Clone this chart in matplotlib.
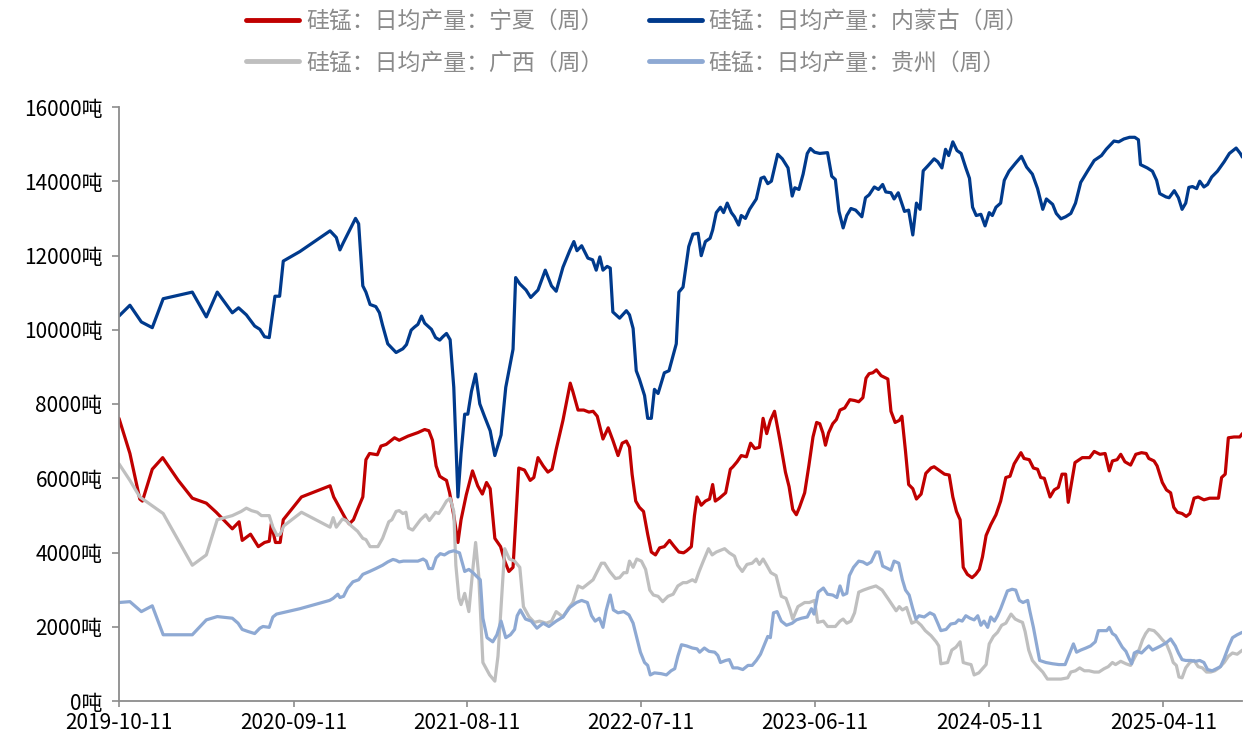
import matplotlib
matplotlib.use("Agg")
import matplotlib.pyplot as plt
import pandas as pd

START = "2019-10-11"

# (days since START, daily output in tonnes)
ningxia = [
    (0, 7614), (21, 6667), (40, 5440), (45, 5385), (64, 6243), (84, 6555), (114, 5942), (141, 5463),
    (168, 5329), (187, 5084), (218, 4638), (231, 4827), (237, 4326), (253, 4493), (268, 4158), (280, 4270),
    (289, 4303), (293, 4772), (301, 4270), (310, 4270), (316, 4883), (351, 5496), (406, 5797), (413, 5496),
    (424, 5217), (437, 4883), (443, 4772), (451, 4883), (459, 5162), (469, 5496), (475, 6500), (482, 6667),
    (497, 6633), (504, 6867), (514, 6912), (530, 7090), (539, 7023), (556, 7135), (575, 7230), (588, 7313),
    (596, 7280), (603, 7023), (610, 6332), (617, 6054), (623, 5998), (630, 5942), (636, 5608), (644, 4994),
    (652, 4270), (658, 4883), (668, 5552), (680, 6198), (690, 5797), (699, 5574), (707, 5886), (714, 5719),
    (723, 4381), (734, 4158), (742, 3768), (750, 3489), (758, 3601), (769, 6276), (780, 6221), (791, 5942),
    (798, 6020), (806, 6555), (816, 6332), (825, 6165), (833, 6243), (841, 6778), (854, 7558), (868, 8562),
    (873, 8339), (883, 7837), (894, 7837), (904, 7782), (912, 7804), (920, 7670), (931, 7057), (941, 7358),
    (950, 7023), (960, 6611), (968, 6945), (976, 7001), (982, 6834), (987, 6110), (994, 5385), (1001, 5217),
    (1009, 5106), (1017, 4493), (1024, 4013), (1032, 3935), (1040, 4125), (1049, 4158), (1059, 4326),
    (1067, 4181), (1077, 4013), (1086, 3991), (1092, 4047), (1101, 4158), (1107, 4994), (1112, 5496),
    (1120, 5273), (1128, 5385), (1136, 5440), (1142, 5831), (1147, 5385), (1155, 5463), (1167, 5608),
    (1176, 6243), (1181, 6310), (1189, 6444), (1197, 6611), (1207, 6578), (1215, 6945), (1223, 6800),
    (1232, 6834), (1239, 7614), (1246, 7202), (1253, 7558), (1261, 7804), (1271, 7057), (1282, 6165),
    (1289, 5775), (1296, 5162), (1303, 5017), (1309, 5217), (1319, 5608), (1327, 6332), (1335, 7112),
    (1342, 7503), (1348, 7469), (1354, 7224), (1359, 6890), (1365, 7224), (1373, 7469), (1380, 7581),
    (1387, 7837), (1396, 7893), (1406, 8116), (1415, 8094), (1423, 8060), (1431, 8171), (1437, 8696),
    (1443, 8818), (1450, 8841), (1457, 8919), (1466, 8763), (1479, 8673), (1485, 7804), (1493, 7503),
    (1501, 7558), (1506, 7670), (1513, 6722), (1519, 5831), (1527, 5719), (1534, 5440), (1543, 5574),
    (1552, 6131), (1562, 6276), (1568, 6310), (1579, 6198), (1588, 6110), (1597, 6087), (1604, 5496),
    (1611, 5106), (1618, 4883), (1624, 3601), (1632, 3411), (1641, 3322), (1648, 3411), (1655, 3545),
    (1661, 3880), (1668, 4459), (1677, 4749), (1687, 5017), (1696, 5385), (1706, 6020), (1714, 6054),
    (1722, 6388), (1735, 6689), (1741, 6533), (1751, 6500), (1759, 6276), (1767, 6243), (1773, 6020),
    (1780, 5998), (1791, 5496), (1799, 5686), (1807, 5753), (1814, 6110), (1821, 6110), (1826, 5351),
    (1839, 6422), (1853, 6555), (1867, 6555), (1876, 6722), (1887, 6645), (1897, 6667), (1905, 6198),
    (1911, 6466), (1920, 6500), (1927, 6645), (1935, 6444), (1946, 6355), (1956, 6645), (1967, 6689),
    (1976, 6667), (1981, 6533), (1991, 6466), (1997, 6332), (2007, 5886), (2015, 5686), (2023, 5608),
    (2029, 5217), (2036, 5084), (2045, 5050), (2053, 4972), (2060, 5050), (2068, 5463), (2076, 5496),
    (2087, 5418), (2098, 5463), (2115, 5463), (2121, 6020), (2128, 6110), (2134, 7090), (2145, 7112),
    (2156, 7112), (2161, 7202),
]

neimenggu = [
    (0, 10370), (21, 10660), (43, 10210), (64, 10056), (85, 10836), (141, 11014), (168, 10346), (189, 11014),
    (218, 10457), (230, 10591), (245, 10401), (261, 10100), (271, 10011), (280, 9811), (289, 9788),
    (300, 10903), (309, 10903), (316, 11850), (348, 12107), (406, 12664), (418, 12486), (425, 12151),
    (431, 12330), (455, 13000), (461, 12854), (469, 11182), (475, 11014), (483, 10680), (494, 10624),
    (501, 10457), (507, 10123), (517, 9621), (533, 9387), (546, 9487), (553, 9600), (562, 9989),
    (568, 10067), (575, 10145), (582, 10368), (588, 10178), (601, 10011), (609, 9788), (617, 9721),
    (623, 9811), (630, 9900), (637, 9732), (644, 8450), (652, 5496), (658, 6667), (665, 7726), (671, 7726),
    (678, 8339), (686, 8807), (694, 8004), (703, 7670), (710, 7425), (714, 7280), (723, 6611), (729, 6890),
    (735, 7168), (744, 8450), (758, 9476), (763, 11405), (771, 11237), (783, 11070), (792, 10870),
    (806, 11070), (820, 11605), (832, 11182), (841, 11037), (854, 11683), (867, 12129), (875, 12375),
    (881, 12129), (890, 12263), (902, 11929), (911, 11884), (918, 11605), (925, 11962), (931, 11605),
    (939, 11706), (945, 11661), (950, 10479), (963, 10312), (976, 10513), (982, 10401), (989, 10033),
    (995, 8896), (1001, 8673), (1011, 8227), (1017, 7614), (1024, 7614), (1030, 8394), (1037, 8283),
    (1049, 8840), (1058, 8896), (1072, 9621), (1077, 11014), (1085, 11148), (1096, 12241), (1104, 12575),
    (1114, 12597), (1120, 11995), (1128, 12375), (1137, 12464), (1142, 12687), (1149, 13155), (1157, 13300),
    (1163, 13155), (1170, 13411), (1178, 13155), (1184, 13043), (1192, 12821), (1197, 13077), (1205, 12999),
    (1213, 13244), (1226, 13523), (1235, 14080), (1241, 14114), (1248, 13935), (1255, 14002), (1267, 14727),
    (1276, 14604), (1287, 14359), (1295, 13601), (1300, 13824), (1308, 13779), (1316, 14192), (1324, 14749),
    (1330, 14883), (1338, 14783), (1348, 14749), (1363, 14771), (1371, 14136), (1378, 14047), (1385, 13188),
    (1393, 12743), (1400, 13077), (1408, 13266), (1417, 13222), (1429, 13043), (1436, 13556), (1443, 13634),
    (1453, 13846), (1461, 13779), (1469, 13913), (1475, 13712), (1485, 13690), (1491, 13523), (1499, 13690),
    (1511, 13188), (1519, 13222), (1527, 12553), (1534, 13411), (1541, 13244), (1547, 14281), (1556, 14415),
    (1568, 14604), (1575, 14526), (1583, 14359), (1590, 14860), (1596, 14693), (1604, 15061), (1612, 14827),
    (1620, 14749), (1629, 14359), (1636, 14080), (1642, 13300), (1649, 13077), (1658, 13110), (1666, 12798),
    (1674, 13155), (1680, 13077), (1687, 13300), (1696, 13411), (1703, 14025), (1712, 14270), (1725, 14493),
    (1736, 14671), (1746, 14381), (1757, 14192), (1767, 13802), (1777, 13244), (1784, 13523), (1796, 13378),
    (1803, 13133), (1812, 12988), (1821, 13043), (1831, 13133), (1840, 13411), (1850, 13969), (1863, 14270),
    (1876, 14560), (1890, 14693), (1899, 14860), (1914, 15083), (1923, 15061), (1933, 15139), (1944, 15184),
    (1954, 15184), (1961, 15117), (1965, 14448), (1978, 14359), (1988, 14270), (1996, 14025), (2002, 13668),
    (2014, 13578), (2020, 13556), (2030, 13746), (2038, 13556), (2045, 13244), (2052, 13411), (2058, 13835),
    (2065, 13857), (2073, 13802), (2079, 14002), (2087, 13846), (2094, 13913), (2102, 14114), (2113, 14270),
    (2126, 14526), (2136, 14749), (2149, 14894), (2157, 14749), (2161, 14650),
]

guangxi = [
    (0, 6388), (21, 5942), (40, 5496), (85, 5050), (141, 3657), (168, 3935), (189, 4883), (218, 4994),
    (235, 5106), (245, 5195), (255, 5128), (266, 5084), (274, 4994), (289, 4994), (296, 4682), (304, 4459),
    (310, 4493), (317, 4716), (351, 5084), (406, 4682), (412, 4939), (418, 4682), (430, 4905), (437, 4861),
    (447, 4716), (459, 4571), (469, 4381), (475, 4348), (483, 4158), (498, 4158), (507, 4381), (519, 4827),
    (525, 4883), (533, 5106), (539, 5128), (546, 5050), (552, 5084), (557, 4660), (565, 4604), (580, 4883),
    (590, 5017), (597, 4861), (609, 5084), (615, 5050), (622, 5195), (630, 5385), (637, 5463), (644, 5106),
    (648, 3657), (654, 2765), (658, 2597), (665, 2899), (673, 2408), (681, 3601), (686, 4270), (692, 3378),
    (700, 1037), (713, 702), (723, 535), (729, 1204), (735, 2542), (742, 4103), (751, 3824), (761, 3768),
    (771, 3601), (778, 2542), (789, 2263), (799, 2118), (809, 2152), (822, 2096), (832, 2152), (841, 2408),
    (854, 2263), (864, 2486), (873, 2653), (883, 3099), (892, 3043), (902, 3155), (912, 3266), (920, 3489),
    (928, 3712), (934, 3712), (944, 3489), (955, 3300), (963, 3322), (971, 3456), (977, 3456), (982, 3768),
    (989, 3601), (996, 3824), (1005, 3768), (1013, 3545), (1021, 2988), (1028, 2854), (1037, 2820),
    (1046, 2676), (1056, 2820), (1066, 2876), (1075, 3099), (1085, 3188), (1092, 3188), (1103, 3266),
    (1109, 3211), (1116, 3489), (1124, 3768), (1134, 4103), (1141, 3935), (1149, 4013), (1165, 4103),
    (1174, 3991), (1184, 3902), (1190, 3657), (1199, 3489), (1208, 3679), (1218, 3712), (1226, 3824),
    (1232, 3679), (1239, 3824), (1246, 3657), (1254, 3456), (1264, 3378), (1274, 2820), (1283, 2765),
    (1291, 2453), (1296, 2207), (1306, 2542), (1319, 2653), (1328, 2653), (1338, 2709), (1344, 2118),
    (1355, 2152), (1363, 2007), (1378, 2007), (1387, 2152), (1393, 2207), (1400, 2096), (1408, 2152),
    (1415, 2375), (1423, 2932), (1432, 2988), (1443, 3043), (1456, 3099), (1468, 2988), (1479, 2765),
    (1487, 2597), (1495, 2430), (1501, 2542), (1507, 2453), (1515, 2519), (1525, 2096), (1534, 2152),
    (1543, 2040), (1551, 1895), (1562, 1761), (1572, 1594), (1577, 1483), (1581, 1003), (1594, 1037),
    (1602, 1371), (1610, 1449), (1618, 1594), (1624, 1037), (1632, 1003), (1639, 981), (1645, 702),
    (1654, 758), (1661, 870), (1668, 981), (1674, 1538), (1682, 1739), (1690, 1851), (1698, 2040),
    (1706, 2096), (1716, 2341), (1724, 2207), (1732, 2152), (1738, 2118), (1743, 1873), (1750, 1371),
    (1757, 1092), (1767, 925), (1777, 780), (1786, 591), (1799, 591), (1812, 591), (1825, 624), (1831, 780),
    (1840, 814), (1848, 892), (1857, 814), (1866, 814), (1876, 780), (1885, 780), (1895, 870), (1903, 925),
    (1911, 1037), (1917, 981), (1927, 1070), (1937, 1003), (1946, 959), (1955, 1204), (1962, 1371),
    (1969, 1650), (1975, 1817), (1981, 1928), (1991, 1895), (1999, 1784), (2007, 1650), (2015, 1538),
    (2023, 1260), (2028, 1037), (2034, 959), (2039, 647), (2045, 624), (2052, 892), (2060, 1037),
    (2068, 1092), (2076, 925), (2084, 892), (2092, 780), (2100, 780), (2108, 814), (2116, 892), (2126, 1037),
    (2134, 1204), (2142, 1293), (2151, 1260), (2161, 1371),
]

guizhou = [
    (0, 2653), (21, 2676), (43, 2408), (64, 2564), (85, 1784), (141, 1784), (168, 2185), (189, 2274),
    (218, 2230), (229, 2096), (237, 1928), (248, 1873), (261, 1817), (271, 1962), (277, 2007), (289, 1984),
    (296, 2263), (303, 2341), (348, 2486), (405, 2709), (412, 2765), (421, 2876), (425, 2787), (432, 2820),
    (440, 3043), (450, 3211), (461, 3266), (469, 3411), (482, 3489), (494, 3567), (507, 3657), (517, 3746),
    (527, 3813), (533, 3790), (539, 3746), (547, 3768), (575, 3768), (585, 3824), (591, 3768), (596, 3567),
    (603, 3567), (610, 3857), (618, 3969), (626, 3935), (635, 4013), (644, 4047), (655, 3991), (665, 3489),
    (673, 3545), (681, 3456), (689, 3344), (695, 3266), (700, 2230), (708, 1706), (719, 1594), (727, 1784),
    (735, 2152), (744, 1706), (753, 1784), (761, 1928), (766, 2297), (772, 2453), (782, 2207), (793, 2152),
    (804, 1962), (816, 2096), (827, 2007), (841, 2152), (854, 2263), (867, 2519), (880, 2653), (890, 2709),
    (901, 2653), (909, 2297), (916, 2152), (924, 2230), (931, 1984), (937, 2430), (945, 2854), (951, 2453),
    (960, 2375), (971, 2408), (981, 2319), (989, 2096), (996, 1706), (1003, 1315), (1011, 1037), (1017, 959),
    (1022, 702), (1030, 758), (1043, 736), (1053, 702), (1062, 814), (1069, 870), (1075, 1204), (1082, 1516),
    (1092, 1483), (1103, 1427), (1112, 1405), (1117, 1315), (1126, 1427), (1135, 1338), (1146, 1315),
    (1152, 1226), (1157, 1037), (1167, 1092), (1174, 1115), (1181, 892), (1190, 892), (1200, 847),
    (1210, 959), (1218, 959), (1226, 1092), (1234, 1260), (1242, 1538), (1248, 1739), (1253, 1706),
    (1259, 2375), (1266, 2408), (1274, 2152), (1284, 2040), (1295, 2096), (1303, 2185), (1313, 2230),
    (1324, 2263), (1332, 2486), (1337, 2341), (1345, 2932), (1355, 3043), (1363, 2876), (1373, 2854),
    (1381, 2787), (1387, 3099), (1393, 2854), (1400, 2899), (1405, 3378), (1413, 3601), (1423, 3768),
    (1431, 3746), (1439, 3679), (1447, 3746), (1456, 4013), (1462, 4013), (1469, 3634), (1479, 3567),
    (1485, 3523), (1491, 3768), (1500, 3712), (1507, 3266), (1513, 2988), (1520, 2854), (1527, 2486),
    (1533, 2207), (1539, 2297), (1549, 2263), (1560, 2375), (1568, 2319), (1575, 2096), (1581, 1895),
    (1591, 1928), (1600, 2074), (1609, 2096), (1615, 2185), (1622, 2152), (1629, 2297), (1637, 2230),
    (1645, 2185), (1652, 2297), (1658, 2040), (1664, 2152), (1671, 1984), (1677, 2263), (1684, 2152),
    (1690, 2297), (1696, 2486), (1703, 2742), (1709, 2965), (1718, 3010), (1725, 2988), (1732, 2709),
    (1739, 2653), (1748, 2709), (1752, 2430), (1759, 1984), (1765, 1538), (1771, 1092), (1783, 1037),
    (1796, 1003), (1808, 981), (1820, 981), (1828, 1260), (1836, 1538), (1842, 1315), (1850, 1371),
    (1860, 1427), (1869, 1483), (1878, 1594), (1884, 1895), (1892, 1895), (1900, 1895), (1905, 1984),
    (1911, 1817), (1917, 1761), (1924, 1594), (1930, 1449), (1937, 1338), (1943, 1148), (1948, 1003),
    (1953, 1293), (1959, 1338), (1967, 1293), (1975, 1405), (1981, 1483), (1988, 1371), (1996, 1427),
    (2004, 1483), (2014, 1561), (2023, 1672), (2032, 1483), (2038, 1293), (2045, 1115), (2052, 1092),
    (2062, 1092), (2071, 1070), (2079, 1092), (2087, 1037), (2094, 847), (2103, 814), (2111, 870),
    (2119, 925), (2126, 1148), (2134, 1449), (2142, 1706), (2151, 1784), (2161, 1851),
]

series_labels = ["硅锰：日均产量：宁夏（周）", "硅锰：日均产量：内蒙古（周）",
                 "硅锰：日均产量：广西（周）", "硅锰：日均产量：贵州（周）"]
series_colors = ["#C00000", "#003A8C", "#BFBFBF", "#8EA9D3"]
x_tick_dates = ["2019-10-11", "2020-09-11", "2021-08-11", "2022-07-11",
                "2023-06-11", "2024-05-11", "2025-04-11"]
y_ticks = [0, 2000, 4000, 6000, 8000, 10000, 12000, 14000, 16000]

plt.rcParams['font.family'] = ['Noto Sans CJK SC', 'DejaVu Sans']

fig = plt.figure(figsize=(12.43, 7.38), dpi=100)
ax = fig.add_axes([119 / 1243, 1 - 701 / 738, (1243 - 119) / 1243 - 0.0005, (701 - 107) / 738])

start = pd.Timestamp(START)

def to_xy(pairs):
    d = [start + pd.Timedelta(days=p[0]) for p in pairs]
    v = [p[1] for p in pairs]
    return d, v

all_series = [ningxia, neimenggu, guangxi, guizhou]
lines = []
for data, lab, col in zip(all_series, series_labels, series_colors):
    d, v = to_xy(data)
    ln, = ax.plot(d, v, color=col, lw=2.3, label=lab, solid_joinstyle='round', solid_capstyle='round')
    lines.append(ln)

last = max(start + pd.Timedelta(days=s[-1][0]) for s in all_series)
ax.set_xlim(start, last)
ax.set_ylim(0, 16000)
ax.set_yticks(y_ticks)
ax.set_yticklabels([f"{t}吨" for t in y_ticks])
ax.set_xticks([pd.Timestamp(t) for t in x_tick_dates])
ax.set_xticklabels(x_tick_dates)

for s in ['top', 'right']:
    ax.spines[s].set_visible(False)
for s in ['left', 'bottom']:
    ax.spines[s].set_color('#8C8C8C')
    ax.spines[s].set_linewidth(1.3)
ax.tick_params(axis='y', direction='out', length=5, width=1.2, color='#8C8C8C',
               pad=7, labelsize=15, labelcolor='#000000')
ax.tick_params(axis='x', direction='out', length=4, width=1.2, color='#8C8C8C',
               pad=4, labelsize=15, labelcolor='#000000')

# reorder so that rows are (宁夏, 内蒙古) and (广西, 贵州)
order = [0, 2, 1, 3]
leg = fig.legend([lines[i] for i in order], [series_labels[i] for i in order],
                 loc='upper center', bbox_to_anchor=(0.513, 1.005), ncol=2, frameon=False,
                 prop={'family': ['Noto Sans CJK SC'], 'size': 16.5, 'weight': 'light'},
                 handlelength=2.3, handletextpad=0.3, columnspacing=2.0, labelspacing=0.8,
                 borderaxespad=0.2)
for t in leg.get_texts():
    t.set_color('#8A8A8A')
for h in leg.get_lines():
    h.set_linewidth(3.5)

fig.savefig("out.png", dpi=100)
